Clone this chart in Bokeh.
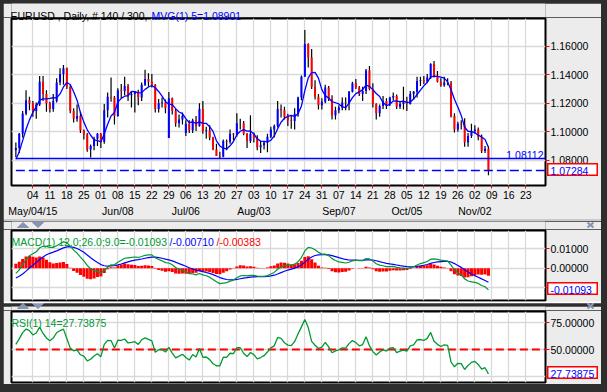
from bokeh.plotting import figure
from bokeh.models import Range1d, LinearAxis, FixedTicker, Label, NumeralTickFormatter, Grid, Spacer, Span
from bokeh.layouts import column, row
from bokeh.embed import file_html
from bokeh.resources import INLINE

# ---------------- data (EURUSD daily, Apr 27 - Nov 06 2015) ----------------
opens = [1.0870, 1.0885, 1.0985, 1.1125, 1.1220,
         1.1200, 1.1145, 1.1190, 1.1350, 1.1265,
         1.1200, 1.1160, 1.1215, 1.1345, 1.1405,
         1.1445, 1.1315, 1.1145, 1.1090, 1.1110,
         1.1010, 1.0980, 1.0875, 1.0900, 1.0950,
         1.0985, 1.0930, 1.1150, 1.1245, 1.1240,
         1.1110, 1.1290, 1.1285, 1.1320, 1.1255,
         1.1265, 1.1280, 1.1240, 1.1330, 1.1370,
         1.1350, 1.1330, 1.1160, 1.1200, 1.1205,
         1.0955, 1.1235, 1.1145, 1.1060, 1.1085,
         1.0990, 1.1055, 1.1010, 1.1080, 1.1040,
         1.1160, 1.1005, 1.1010, 1.0960, 1.0875,
         1.0830, 1.0825, 1.0935, 1.0930, 1.0985,
         1.0980, 1.1060, 1.1060, 1.0985, 1.0935,
         1.0985, 1.0955, 1.0890, 1.0905, 1.0925,
         1.0965, 1.1015, 1.1040, 1.1160, 1.1150,
         1.1105, 1.1080, 1.1075, 1.1125, 1.1240,
         1.1385, 1.1615, 1.1520, 1.1315, 1.1245,
         1.1185, 1.1210, 1.1310, 1.1230, 1.1115,
         1.1150, 1.1170, 1.1205, 1.1200, 1.1280,
         1.1340, 1.1310, 1.1265, 1.1285, 1.1430,
         1.1300, 1.1195, 1.1130, 1.1180, 1.1215,
         1.1195, 1.1240, 1.1250, 1.1175, 1.1195,
         1.1210, 1.1195, 1.1265, 1.1280, 1.1355,
         1.1360, 1.1350, 1.1380, 1.1475, 1.1385,
         1.1350, 1.1325, 1.1345, 1.1340, 1.1110,
         1.1015, 1.1055, 1.1050, 1.0925, 1.0970,
         1.1005, 1.1015, 1.0962, 1.0865, 1.0880]
highs = [1.0925, 1.0990, 1.1145, 1.1290, 1.1245,
         1.1215, 1.1205, 1.1390, 1.1390, 1.1290,
         1.1210, 1.1265, 1.1375, 1.1445, 1.1467,
         1.1450, 1.1330, 1.1165, 1.1190, 1.1140,
         1.1015, 1.0990, 1.0910, 1.0965, 1.0990,
         1.0990, 1.1195, 1.1275, 1.1380, 1.1250,
         1.1305, 1.1335, 1.1385, 1.1335, 1.1280,
         1.1285, 1.1295, 1.1345, 1.1435, 1.1410,
         1.1405, 1.1335, 1.1230, 1.1240, 1.1225,
         1.1278, 1.1240, 1.1160, 1.1120, 1.1135,
         1.1080, 1.1080, 1.1090, 1.1110, 1.1200,
         1.1215, 1.1035, 1.1045, 1.0965, 1.0915,
         1.0860, 1.0945, 1.0945, 1.1015, 1.0990,
         1.1130, 1.1090, 1.1075, 1.0990, 1.1115,
         1.0995, 1.0975, 1.0935, 1.0935, 1.0985,
         1.1035, 1.1050, 1.1215, 1.1190, 1.1175,
         1.1125, 1.1110, 1.1165, 1.1245, 1.1395,
         1.1714, 1.1620, 1.1580, 1.1360, 1.1265,
         1.1235, 1.1330, 1.1320, 1.1255, 1.1175,
         1.1185, 1.1240, 1.1240, 1.1285, 1.1350,
         1.1370, 1.1320, 1.1315, 1.1440, 1.1460,
         1.1340, 1.1200, 1.1190, 1.1250, 1.1235,
         1.1245, 1.1275, 1.1260, 1.1210, 1.1315,
         1.1245, 1.1285, 1.1285, 1.1385, 1.1385,
         1.1390, 1.1405, 1.1480, 1.1495, 1.1425,
         1.1375, 1.1385, 1.1375, 1.1355, 1.1130,
         1.1070, 1.1080, 1.1095, 1.0990, 1.1055,
         1.1045, 1.1030, 1.0980, 1.0900, 1.0895]
lows = [1.0820, 1.0850, 1.0960, 1.1115, 1.1150,
        1.1105, 1.1090, 1.1180, 1.1215, 1.1140,
        1.1135, 1.1140, 1.1205, 1.1325, 1.1330,
        1.1300, 1.1130, 1.1065, 1.1070, 1.0990,
        1.0945, 1.0860, 1.0819, 1.0870, 1.0900,
        1.0885, 1.0915, 1.1100, 1.1210, 1.1050,
        1.1105, 1.1235, 1.1255, 1.1215, 1.1170,
        1.1135, 1.1185, 1.1215, 1.1320, 1.1315,
        1.1310, 1.1135, 1.1135, 1.1170, 1.1130,
        1.0955, 1.1120, 1.1035, 1.1030, 1.1050,
        1.0970, 1.0990, 1.0990, 1.1005, 1.1035,
        1.0985, 1.0950, 1.0940, 1.0870, 1.0830,
        1.0808, 1.0820, 1.0870, 1.0915, 1.0940,
        1.0965, 1.1015, 1.0975, 1.0885, 1.0920,
        1.0925, 1.0870, 1.0850, 1.0875, 1.0855,
        1.0955, 1.0960, 1.1030, 1.1100, 1.1085,
        1.1040, 1.1020, 1.1015, 1.1105, 1.1220,
        1.1385, 1.1450, 1.1300, 1.1225, 1.1155,
        1.1155, 1.1200, 1.1215, 1.1085, 1.1085,
        1.1130, 1.1150, 1.1150, 1.1150, 1.1275,
        1.1300, 1.1250, 1.1215, 1.1265, 1.1290,
        1.1170, 1.1085, 1.1105, 1.1160, 1.1160,
        1.1180, 1.1220, 1.1160, 1.1160, 1.1155,
        1.1145, 1.1190, 1.1225, 1.1240, 1.1320,
        1.1335, 1.1345, 1.1370, 1.1380, 1.1345,
        1.1315, 1.1315, 1.1325, 1.1100, 1.0995,
        1.1000, 1.1015, 1.0895, 1.0895, 1.0955,
        1.0985, 1.0940, 1.0850, 1.0850, 1.0695]
closes = [1.0885, 1.0985, 1.1125, 1.1220, 1.1200,
          1.1145, 1.1190, 1.1350, 1.1265, 1.1200,
          1.1160, 1.1215, 1.1345, 1.1405, 1.1445,
          1.1315, 1.1145, 1.1090, 1.1110, 1.1010,
          1.0980, 1.0875, 1.0900, 1.0950, 1.0985,
          1.0930, 1.1150, 1.1245, 1.1240, 1.1110,
          1.1290, 1.1285, 1.1320, 1.1255, 1.1265,
          1.1280, 1.1240, 1.1330, 1.1370, 1.1350,
          1.1330, 1.1160, 1.1200, 1.1205, 1.1165,
          1.1235, 1.1145, 1.1060, 1.1085, 1.1110,
          1.1055, 1.1010, 1.1080, 1.1040, 1.1160,
          1.1005, 1.1010, 1.0960, 1.0875, 1.0830,
          1.0825, 1.0935, 1.0930, 1.0985, 1.0980,
          1.1060, 1.1060, 1.0985, 1.0935, 1.0985,
          1.0955, 1.0890, 1.0905, 1.0925, 1.0965,
          1.1015, 1.1040, 1.1160, 1.1150, 1.1105,
          1.1080, 1.1075, 1.1125, 1.1240, 1.1385,
          1.1615, 1.1520, 1.1315, 1.1245, 1.1185,
          1.1210, 1.1310, 1.1230, 1.1115, 1.1150,
          1.1170, 1.1205, 1.1200, 1.1280, 1.1340,
          1.1310, 1.1265, 1.1285, 1.1430, 1.1300,
          1.1195, 1.1130, 1.1180, 1.1215, 1.1195,
          1.1240, 1.1250, 1.1175, 1.1195, 1.1210,
          1.1195, 1.1265, 1.1280, 1.1355, 1.1360,
          1.1350, 1.1380, 1.1475, 1.1385, 1.1350,
          1.1325, 1.1345, 1.1340, 1.1110, 1.1015,
          1.1055, 1.1050, 1.0925, 1.0970, 1.1005,
          1.1015, 1.0962, 1.0865, 1.0880, 1.07284]
prior_closes = [1.0725, 1.0730, 1.0820, 1.0870]   # closes before the first bar (for MVG 5)

support_level = 1.08112
last_macd, last_signal, last_hist = -0.01093, -0.00710, -0.00383   # values shown in the chart
last_rsi = 27.73875

week_ticks = [5, 10, 15, 20, 25, 30, 35, 40, 45, 50, 55, 60, 65, 70, 75,
              80, 85, 90, 95, 100, 105, 110, 115, 120, 125, 130, 135, 140, 145, 150]
week_labels = ["04", "11", "18", "25", "01", "08", "15", "22", "29", "06", "13", "20", "27", "03", "10",
               "17", "24", "31", "07", "14", "21", "28", "05", "12", "19", "26", "02", "09", "16", "23"]
month_ticks = [5, 30, 50, 70, 95, 115, 135]
month_labels = ["May/04/15", "Jun/08", "Jul/06", "Aug/03", "Sep/07", "Oct/05", "Nov/02"]

price_ticks = [1.08, 1.10, 1.12, 1.14, 1.16]
macd_ticks = [-0.01, 0.0, 0.01]
rsi_ticks = [25, 50, 75]
rsi_mid = 50

# indicator seeds (state of the indicators before the first visible bar)
EMA12_SEED, EMA26_SEED, SIGNAL_SEED = 1.0760, 1.0800, -0.0056
RSI_GAIN_SEED, RSI_LOSS_SEED = 0.0034, 0.0029

# ---------------- indicators ----------------
n = len(closes)
idx = list(range(n))
full = prior_closes + closes
mvg = [sum(full[i:i + 5]) / 5 for i in range(n)]


def ema(vals, period, seed):
    a = 2.0 / (period + 1)
    out, e = [], seed
    for v in vals:
        e = e + a * (v - e)
        out.append(e)
    return out


e12 = ema(closes, 12, EMA12_SEED)
e26 = ema(closes, 26, EMA26_SEED)
macd = [a - b for a, b in zip(e12, e26)]
signal = ema(macd, 9, SIGNAL_SEED)
hist = [m - s for m, s in zip(macd, signal)]

rsi = []
g, l, prev = RSI_GAIN_SEED, RSI_LOSS_SEED, prior_closes[-1]
for c in closes:
    d = c - prev
    g = (g * 13 + max(d, 0.0)) / 14
    l = (l * 13 + max(-d, 0.0)) / 14
    rsi.append(100.0 * g / (g + l))
    prev = c

# ---------------- styling / geometry ----------------
FONT = "Liberation Sans"
FS = "10.5px"
BG = "#ECECEC"
DARK = "#2E2E2E"
GRIDC = "#D9D9D9"
BLUE = "#0000FF"
RED = "#FF0000"
GREEN = "#009933"
ICON = "#8794B4"
X_END = 155.78
x_range = Range1d(-1.28, X_END)
W = 598          # width of the inner chart area
LEFT = 3         # page x of the inner chart area
FRAME_H = {"main": 167, "macd": 70, "rsi": 71}
FRAME_TOP = {"main": 18, "macd": 230, "rsi": 311}   # page pixels
main_y = Range1d(1.06225, 1.1794)
macd_y = Range1d(-0.01665, 0.01943)
rsi_y = Range1d(19.1, 85.6)


def base_fig(height, y_range, top, bottom, yticks):
    f = figure(width=W, height=height, x_range=x_range, y_range=y_range,
               output_backend="svg", toolbar_location=None, title=None,
               x_axis_location=None, y_axis_location="right",
               min_border_left=8, min_border_right=56, min_border_top=top, min_border_bottom=bottom,
               background_fill_color="white", border_fill_color=BG)
    f.center = []
    f.add_layout(Grid(dimension=0, ticker=FixedTicker(ticks=week_ticks),
                      grid_line_color=GRIDC, grid_line_width=1.3))
    f.add_layout(Grid(dimension=1, ticker=FixedTicker(ticks=yticks),
                      grid_line_color=GRIDC, grid_line_width=1.3))
    f.outline_line_color = "black"
    f.outline_line_width = 2
    ax = f.yaxis[0]
    ax.ticker = FixedTicker(ticks=yticks)
    ax.formatter = NumeralTickFormatter(format="0.00000")
    ax.axis_line_color = None
    ax.major_tick_line_color = RED
    ax.major_tick_out = 4
    ax.major_tick_in = 0
    ax.minor_tick_line_color = None
    ax.major_label_text_font = FONT
    ax.major_label_text_font_size = FS
    ax.major_label_text_color = "black"
    ax.major_label_standoff = 1
    return f


def strip_fig(width, height, bg=BG):
    """A plain strip whose frame fills the whole figure; its units are pixels from the top-left."""
    f = figure(width=width, height=height, x_range=Range1d(0, width), y_range=Range1d(height, 0),
               output_backend="svg", toolbar_location=None, title=None,
               x_axis_location=None, y_axis_location=None,
               min_border_left=0, min_border_right=0, min_border_top=0, min_border_bottom=0,
               background_fill_color=bg, border_fill_color=bg)
    f.center = []
    f.outline_line_color = None
    return f


def overlay(fig, left, top):
    fig.styles = {"position": "absolute", "left": f"{left}px", "top": f"{top}px", "z-index": "5"}
    return fig


def text(fig, x, y, s, color, size=FS, align="left", baseline="alphabetic"):
    fig.add_layout(Label(x=x, y=y, text=s, text_color=color, text_font=FONT,
                         text_font_size=size, text_align=align, text_baseline=baseline))


BOX_W, BOX_H, BOX_LEFT = 51, 13, 547


def value_box(panel, value, s):
    """Red-framed value tag that sits on the price axis, at the height of `value`."""
    yr = {"main": main_y, "macd": macd_y, "rsi": rsi_y}[panel]
    cy = FRAME_TOP[panel] + (yr.end - value) / (yr.end - yr.start) * FRAME_H[panel]
    b = strip_fig(BOX_W, BOX_H, bg="white")
    b.outline_line_color = RED
    b.outline_line_width = 2
    text(b, 3, BOX_H / 2 + 0.5, s, BLUE, baseline="middle")
    return overlay(b, BOX_LEFT, round(cy - BOX_H / 2))


ARROW_UP = (19.5, "up")
ARROW_DN = (34.5, "down")
CLOSE_X = 587


def separator_bar(top, height, line_y, cy):
    """Transparent layer with the panel bar's light edge, collapse arrows and close cross."""
    s = strip_fig(W, height, bg=None)
    s.add_layout(Span(location=line_y, dimension="width", line_color="white", line_width=1.5))
    for cx, d in (ARROW_UP, ARROW_DN):
        tip, base = (cy - 2.5, cy + 2.5) if d == "up" else (cy + 2.5, cy - 2.5)
        s.patch([cx - 5.5, cx + 5.5, cx], [base, base, tip], fill_color=ICON, line_color=ICON)
    s.segment(x0=[CLOSE_X - 3, CLOSE_X - 3], y0=[cy - 2.5, cy + 2.5],
              x1=[CLOSE_X + 3, CLOSE_X + 3], y1=[cy + 2.5, cy - 2.5],
              line_color=ICON, line_width=2.2)
    return overlay(s, LEFT, top)


# ---------------- title (transparent layer over the title bar) ----------------
title_layer = strip_fig(W, 24, bg=None)
text(title_layer, 7, 12.8, "EURUSD , Daily, # 140 / 300,", "black")
text(title_layer, 148, 12.8, f"MVG(1) 5={mvg[-1]:.5f}", BLUE)
overlay(title_layer, LEFT, 3)

# ---------------- main price panel ----------------
main = base_fig(202, main_y, 1, 34, price_ticks)

ax1 = LinearAxis(ticker=FixedTicker(ticks=week_ticks),
                 major_label_overrides=dict(zip(week_ticks, week_labels)))
ax2 = LinearAxis(ticker=FixedTicker(ticks=month_ticks),
                 major_label_overrides=dict(zip(month_ticks, month_labels)))
for a, so in ((ax1, 2), (ax2, 3)):
    a.axis_line_color = None
    a.minor_tick_line_color = None
    a.major_label_text_font = FONT
    a.major_label_text_font_size = FS
    a.major_label_text_color = "black"
    a.major_label_standoff = so
ax1.major_tick_line_color = RED
ax1.major_tick_out = 3
ax1.major_tick_in = 0
ax2.major_tick_line_color = None
ax2.major_tick_out = 0
ax2.major_tick_in = 0
main.add_layout(ax1, "below")
main.add_layout(ax2, "below")

body_colors = [BLUE if c > o else RED for o, c in zip(opens, closes)]
main.segment(x0=idx, y0=lows, x1=idx, y1=highs, line_color="black", line_width=1.2)
main.segment(x0=idx, y0=opens, x1=idx, y1=closes, line_color=body_colors, line_width=2)
main.line(idx, mvg, line_color=BLUE, line_width=1.3)
main.segment(x0=[0], y0=[support_level], x1=[X_END], y1=[support_level],
             line_color=BLUE, line_width=1.5)
main.segment(x0=[0], y0=[closes[-1]], x1=[X_END], y1=[closes[-1]],
             line_color=BLUE, line_width=1.5, line_dash="9 4")
main.add_layout(Label(x=X_END, y=support_level, text=f"{support_level:.5f}", text_color=BLUE,
                      text_font=FONT, text_font_size=FS, text_align="right",
                      text_baseline="bottom", x_offset=-2))

# ---------------- MACD panel ----------------
pm = base_fig(73, macd_y, 1, 2, macd_ticks)
pm.yaxis[0].major_label_overrides = {-0.01: ""}
pm.vbar(x=idx, top=hist, bottom=0, width=0.9, fill_color=RED, line_color=None)
pm.line(idx, signal, line_color=BLUE, line_width=1.2)
pm.line(idx, macd, line_color=GREEN, line_width=1.2)
for x, s, c in ((8, f"MACD(1) 12.0;26.0;9.0={last_macd:.5f}", GREEN),
                (166, f"/{last_signal:.5f}", BLUE),
                (213, f"/{last_hist:.5f}", RED)):
    pm.add_layout(Label(x=x, y=12, x_units="canvas", y_units="canvas", text=s, text_color=c,
                        text_font=FONT, text_font_size=FS, text_baseline="alphabetic"))

# ---------------- RSI panel ----------------
pr = base_fig(74, rsi_y, 1, 2, rsi_ticks)
pr.yaxis[0].major_label_overrides = {25: ""}
pr.segment(x0=[0], y0=[rsi_mid], x1=[X_END], y1=[rsi_mid], line_color=RED,
           line_width=2, line_dash="8 4")
pr.line(idx, rsi, line_color=GREEN, line_width=1.3)
pr.add_layout(Label(x=8, y=12, x_units="canvas", y_units="canvas",
                    text=f"RSI(1) 14={last_rsi:.5f}", text_color=GREEN,
                    text_font=FONT, text_font_size=FS, text_baseline="alphabetic"))

# plain gray strips keep the places of the title bar and the panel bars in the layout
inner = column(strip_fig(W, 14), main, strip_fig(W, 10), pm, strip_fig(W, 8), pr)
page = column(
    Spacer(width=607, height=3),
    row(Spacer(width=3, height=381), inner, Spacer(width=6, height=381)),
    Spacer(width=607, height=8),
    styles={"background-color": DARK},
)

overlays = [title_layer,
            separator_bar(215, 16, 4.5, 9.5),     # bar between price and MACD panels
            separator_bar(298, 14, 4.0, 7.5),     # bar between MACD and RSI panels
            value_box("main", closes[-1], f"{closes[-1]:.5f}"),
            value_box("macd", last_macd, f"{last_macd:.5f}"),
            value_box("rsi", last_rsi, f"{last_rsi:.5f}")]

open("out.html", "w").write(file_html([page] + overlays, INLINE))
